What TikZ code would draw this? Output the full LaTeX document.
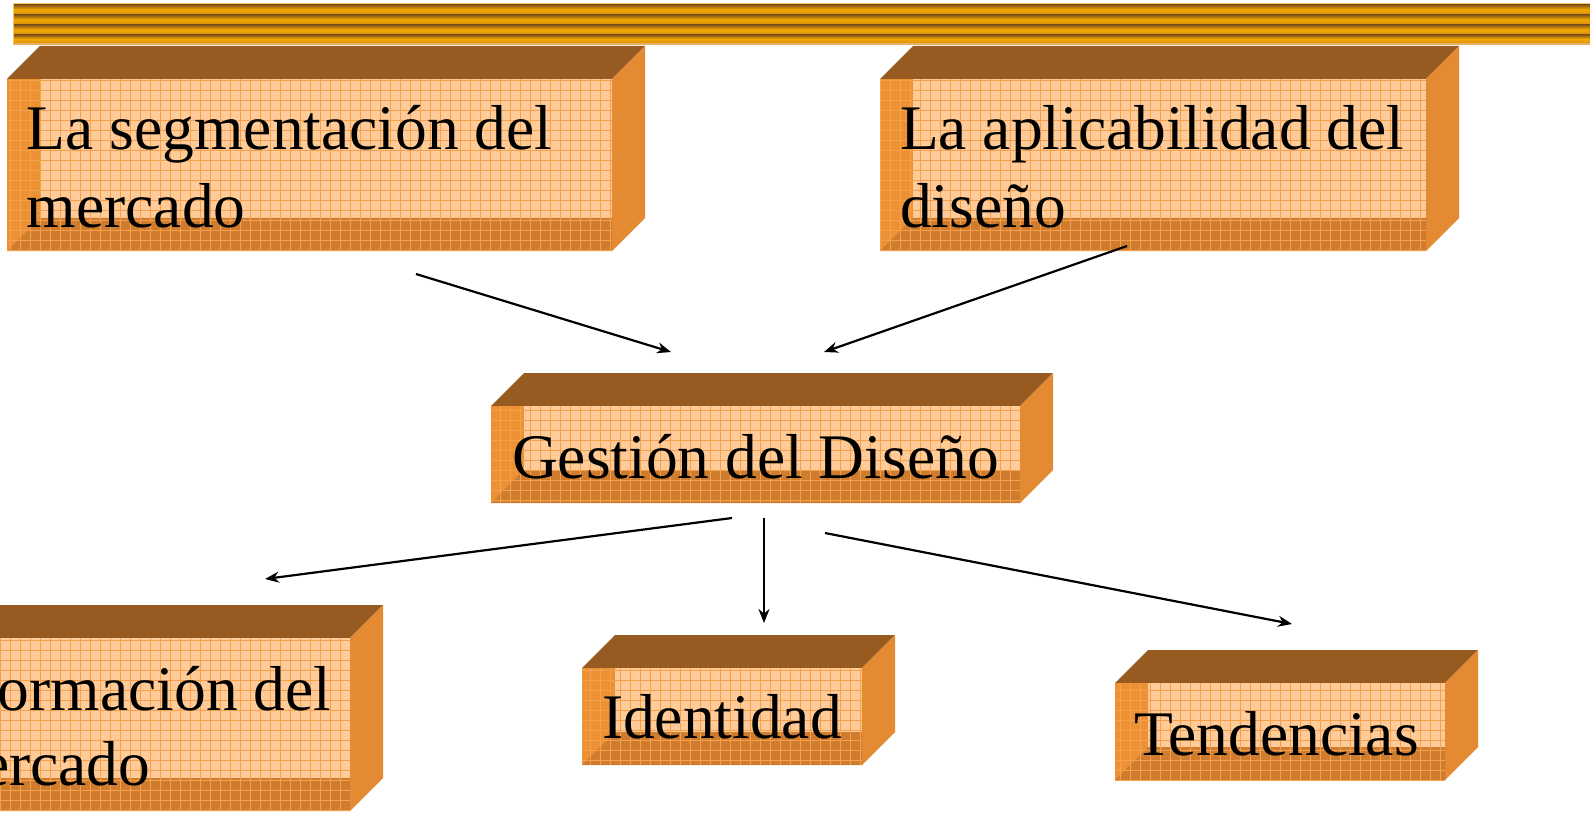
\documentclass[tikz,border=0pt]{standalone}
\usepackage{fontspec}
\setmainfont{Liberation Serif}
\usetikzlibrary{arrows.meta}
\definecolor{topc}{HTML}{975B21}
\definecolor{rightc}{HTML}{E38A32}
\definecolor{leftc}{HTML}{EC9235}
\definecolor{lightc}{HTML}{FFCC99}
\definecolor{bottomc}{HTML}{CF7C2E}
\definecolor{gridc}{HTML}{F4A04C}
\definecolor{barlight}{HTML}{F9C56A}
\definecolor{bardark}{HTML}{8B5A14}
\definecolor{bargold}{HTML}{F5A800}
\definecolor{barmid}{HTML}{D69410}
\newcommand\mkbox[4]{%
 \pgfmathsetmacro\ya{#2+33}%
 \pgfmathsetmacro\xb{#1+33}%
 \pgfmathsetmacro\xc{#3+33}%
 \pgfmathsetmacro\yd{#4-33}%
 \fill[topc] (#1,\ya) -- (\xb,#2) -- (\xc,#2) -- (#3,\ya) -- cycle;
 \fill[rightc] (#3,\ya) -- (\xc,#2) -- (\xc,\yd) -- (#3,#4) -- cycle;
 \fill[leftc] (#1,\ya) rectangle (#3,#4);
 \fill[lightc] (\xb,\ya) rectangle (#3,\yd);
 \fill[bottomc] (#1,#4) -- (\xb,\yd) -- (#3,\yd) -- (#3,#4) -- cycle;
 \begin{scope}
  \clip (#1,\ya) rectangle (#3,#4);
  \draw[gridc, line width=0.7pt, step=10pt] (#1,\ya) grid (#3,#4);
 \end{scope}
}
\tikzset{
 txt/.style={anchor=base west, inner sep=0pt, outer sep=0pt, font=\fontsize{63.5}{77}\selectfont},
 conn/.style={line width=2.2pt, -{Stealth[length=14pt,width=11pt]}},
 tube/.style={top color=bardark, bottom color=barmid, middle color=bargold}
}
\begin{document}
\begin{tikzpicture}[x=1pt,y=-1pt]
\useasboundingbox (0,0) rectangle (1590,813);
\clip (0,0) rectangle (1590,813);
\fill[white] (0,0) rectangle (1590,813);
% top bar
\fill[barlight] (13,3) rectangle (1595,45);
\fill[bardark] (14,5) rectangle (1595,43);
\shade[tube] (14,5) rectangle (1595,14);
\shade[tube] (14,15) rectangle (1595,24);
\shade[tube] (14,25) rectangle (1595,34);
\shade[tube] (14,35) rectangle (1595,43);
\fill[barlight!70!brown] (13,43) rectangle (1595,45);
% boxes
\mkbox{7}{46}{612}{251}
\mkbox{880}{46}{1426}{251}
\mkbox{491}{373}{1020}{503}
\mkbox{-95}{605}{350}{811}
\mkbox{582}{635}{862}{765}
\mkbox{1115}{650}{1445}{780}
% texts
\node[txt] (t1a) at (27,150) {La segmentación del};
\node[txt] (t1b) at (27,227) {mercado};
\node[txt] (t2a) at (900,150) {La aplicabilidad del};
\node[txt] (t2b) at (900,227) {diseño};
\node[txt] (t3) at (512,478) {Gestión del Diseño};
\node[txt] (t4a) at (-2,710) {ormación del};
\node[txt] (t4b) at (-19,785) {ercado};
\node[txt] (t5) at (602,738) {Identidad};
\node[txt] (t6) at (1134,755) {Tendencias};
% connector endpoints
\coordinate (a1s) at (416,274);
\coordinate (a1e) at (671,352);
\coordinate (a2s) at (1127,246);
\coordinate (a2e) at (824,352);
\coordinate (a3s) at (732,518);
\coordinate (a3e) at (265,579);
\coordinate (a4s) at (764,518);
\coordinate (a4e) at (764,623);
\coordinate (a5s) at (825,533);
\coordinate (a5e) at (1292,624);
\draw[conn] (a1s) -- (a1e);
\draw[conn] (a2s) -- (a2e);
\draw[conn] (a3s) -- (a3e);
\draw[conn] (a4s) -- (a4e);
\draw[conn] (a5s) -- (a5e);
\end{tikzpicture}
\end{document}
